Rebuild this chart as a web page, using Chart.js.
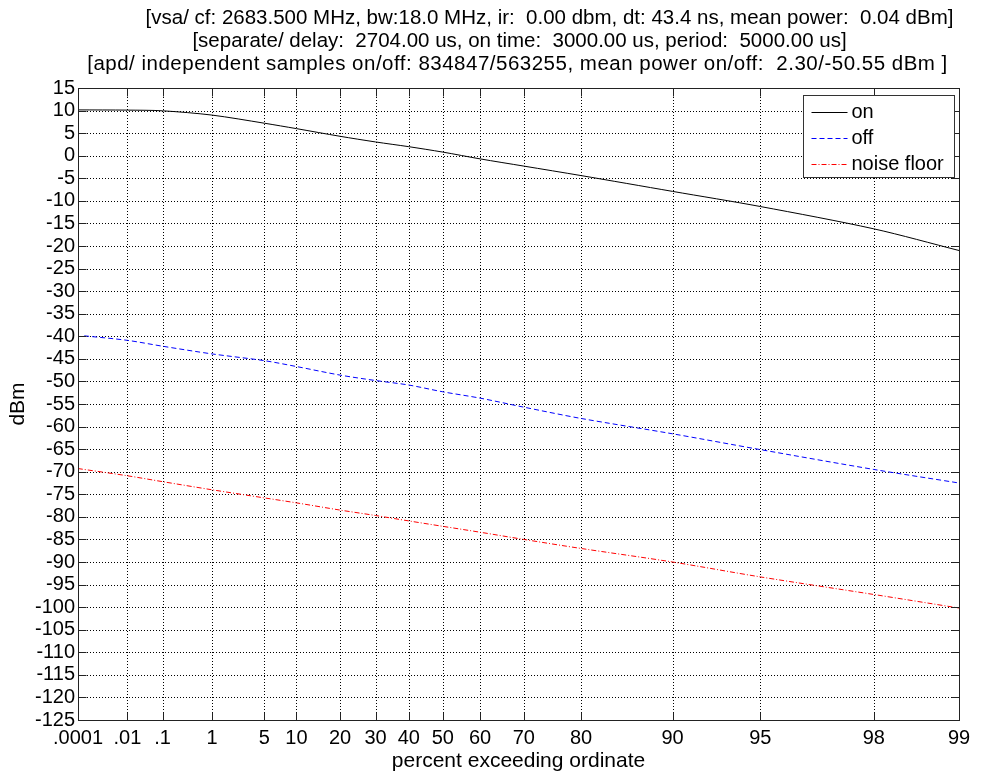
<!DOCTYPE html>
<html>
<head>
<meta charset="utf-8">
<script src="https://cdn.jsdelivr.net/npm/chart.js@4/dist/chart.umd.min.js"></script>
<style>
  html, body { margin: 0; padding: 0; background: #fff; }
  #wrap { width: 984px; height: 776px; position: relative; }
</style>
</head>
<body>
<div id="wrap"><canvas id="apd"></canvas></div>
<script>
// Title lines
const titleLines = [
  '[vsa/ cf: 2683.500 MHz, bw:18.0 MHz, ir:  0.00 dbm, dt: 43.4 ns, mean power:  0.04 dBm]',
  '[separate/ delay:  2704.00 us, on time:  3000.00 us, period:  5000.00 us]',
  '[apd/ independent samples on/off: 834847/563255, mean power on/off:  2.30/-50.55 dBm ]'
];
// horizontal shift of each title line from the axes centre (px) and extra letter spacing
const titleShift = [31, 1, -1];
const titleSpacing = ['0px', '0px', '0.5px'];

// Probability-axis ticks (percent exceeding ordinate)
const percentTicks = [0.0001, 0.01, 0.1, 1, 5, 10, 20, 30, 40, 50, 60, 70, 80, 90, 95, 98, 99];
const percentTickLabels = ['.0001', '.01', '.1', '1', '5', '10', '20', '30', '40', '50', '60', '70', '80', '90', '95', '98', '99'];

// Series: percent exceeding and level in dBm
const percentOn = [0.0001, 0.01, 0.1, 1, 5, 10, 20, 30, 40, 50, 60, 70, 80, 90, 95, 98, 99];
const powerOn = [10.15, 10.1, 9.95, 9.0, 7.2, 6.0, 4.3, 3.05, 2.0, 0.8, -0.7, -2.3, -4.4, -7.9, -11.25, -16.2, -21.0];

const percentOff = [0.0002, 0.01, 0.1, 1, 5, 10, 20, 30, 40, 50, 60, 70, 80, 90, 95, 98, 99];
const powerOff = [-39.9, -40.9, -42.2, -43.9, -45.4, -46.7, -48.6, -49.8, -50.8, -52.3, -53.7, -55.7, -58.2, -61.6, -65.1, -69.5, -72.5];

const percentNoise = [0.0001, 0.01, 0.1, 1, 5, 10, 20, 30, 40, 50, 60, 70, 80, 90, 95, 98, 99];
const powerNoise = [-69.3, -70.9, -72.2, -74.0, -75.8, -76.9, -78.5, -79.7, -80.9, -82.1, -83.4, -85.0, -87.0, -90.0, -93.3, -97.2, -100.2];

const FONT = '"Liberation Sans", Arial, Helvetica, sans-serif';
const TICK_SIZE = 20;
const LABEL_SIZE = 21;
const TITLE_SIZE = 20.5;

// Rayleigh probability scale: position = -log10(-ln(p/100))
const apdTransform = p => -Math.log10(-Math.log(p / 100));

class ApdScale extends Chart.LinearScale {
  buildTicks() {
    return percentTicks
      .filter(v => v >= this.min && v <= this.max)
      .map(v => ({ value: v }));
  }
  configure() {
    super.configure();
    this._t0 = apdTransform(this.min);
    this._t1 = apdTransform(this.max);
  }
  getPixelForValue(value) {
    return this.getPixelForDecimal((apdTransform(value) - this._t0) / (this._t1 - this._t0));
  }
  getValueForPixel(pixel) {
    const t = this._t0 + this.getDecimalForPixel(pixel) * (this._t1 - this._t0);
    return 100 * Math.exp(-Math.pow(10, -t));
  }
}
ApdScale.id = 'apd';
ApdScale.defaults = {};
Chart.register(ApdScale);

const toPoints = (xs, ys) => xs.map((x, i) => ({ x, y: ys[i] }));

// Dotted grid behind the curves
const gridPlugin = {
  id: 'dottedGrid',
  beforeDatasetsDraw(chart) {
    const { ctx, chartArea: a, scales: { x, y } } = chart;
    ctx.save();
    ctx.strokeStyle = '#000';
    ctx.lineWidth = 1;
    ctx.setLineDash([1, 2]);
    x.ticks.forEach(t => {
      const px = Math.round(x.getPixelForValue(t.value)) + 0.5;
      if (px <= a.left + 1 || px >= a.right - 1) return;
      ctx.beginPath(); ctx.moveTo(px, a.top); ctx.lineTo(px, a.bottom); ctx.stroke();
    });
    y.ticks.forEach(t => {
      const py = Math.round(y.getPixelForValue(t.value)) + 0.5;
      if (py <= a.top + 1 || py >= a.bottom - 1) return;
      ctx.beginPath(); ctx.moveTo(a.left, py); ctx.lineTo(a.right, py); ctx.stroke();
    });
    ctx.restore();
  }
};

// Axes box with inward tick marks on all four sides, legend and title
const framePlugin = {
  id: 'frame',
  afterDatasetsDraw(chart) {
    const { ctx, chartArea: a, scales: { x, y } } = chart;
    const L = Math.round(a.left) + 0.5, R = Math.round(a.right) + 0.5;
    const T = Math.round(a.top) + 0.5, B = Math.round(a.bottom) + 0.5;
    const tick = 8;
    ctx.save();
    ctx.strokeStyle = '#222';
    ctx.lineWidth = 1;
    ctx.setLineDash([]);
    ctx.strokeRect(L, T, R - L, B - T);
    ctx.beginPath();
    x.ticks.forEach(t => {
      const px = Math.round(x.getPixelForValue(t.value)) + 0.5;
      ctx.moveTo(px, B); ctx.lineTo(px, B - tick);
      ctx.moveTo(px, T); ctx.lineTo(px, T + tick);
    });
    y.ticks.forEach(t => {
      const py = Math.round(y.getPixelForValue(t.value)) + 0.5;
      ctx.moveTo(L, py); ctx.lineTo(L + tick, py);
      ctx.moveTo(R, py); ctx.lineTo(R - tick, py);
    });
    ctx.stroke();

    // legend
    const sets = chart.data.datasets;
    ctx.font = TICK_SIZE + 'px ' + FONT;
    const textW = Math.max(...sets.map(d => ctx.measureText(d.label).width));
    const rowH = 26, sample = 36;
    const w = Math.round(8 + sample + 4 + textW + 11);
    const h = sets.length * rowH + 4;
    const x0 = Math.round(a.right - 5 - w) + 0.5, y0 = Math.round(a.top + 7) + 0.5;
    ctx.fillStyle = '#fff';
    ctx.fillRect(x0, y0, w, h);
    ctx.strokeStyle = '#333';
    ctx.strokeRect(x0, y0, w, h);
    sets.forEach((d, i) => {
      const yc = Math.round(y0 + 16 + i * rowH) + 0.5;
      ctx.strokeStyle = d.borderColor;
      ctx.lineWidth = d.borderWidth;
      ctx.setLineDash(d.borderDash || []);
      ctx.beginPath(); ctx.moveTo(x0 + 8, yc); ctx.lineTo(x0 + 8 + sample, yc); ctx.stroke();
      ctx.fillStyle = '#000';
      ctx.textAlign = 'left';
      ctx.textBaseline = 'middle';
      ctx.fillText(d.label, x0 + 8 + sample + 4, yc);
    });

    // title
    ctx.font = TITLE_SIZE + 'px ' + FONT;
    ctx.fillStyle = '#000';
    ctx.textAlign = 'center';
    ctx.textBaseline = 'middle';
    const cx = (a.left + a.right) / 2;
    titleLines.forEach((s, i) => {
      ctx.letterSpacing = titleSpacing[i];
      ctx.fillText(s, cx + titleShift[i], 18 + i * 23);
    });
    ctx.letterSpacing = '0px';
    ctx.restore();
  }
};

new Chart(document.getElementById('apd'), {
  type: 'line',
  data: {
    datasets: [
      { label: 'on', data: toPoints(percentOn, powerOn), borderColor: '#000000', borderWidth: 1, pointRadius: 0, tension: 0.3, borderDash: [] },
      { label: 'off', data: toPoints(percentOff, powerOff), borderColor: '#0000ff', borderWidth: 1, pointRadius: 0, tension: 0.3, borderDash: [5, 3] },
      { label: 'noise floor', data: toPoints(percentNoise, powerNoise), borderColor: '#ff0000', borderWidth: 1, pointRadius: 0, tension: 0.3, borderDash: [5, 2, 1, 2] }
    ]
  },
  options: {
    responsive: true,
    maintainAspectRatio: false,
    animation: false,
    events: [],
    layout: { padding: { top: 88, right: 25, left: 0, bottom: 0 } },
    plugins: { legend: { display: false }, tooltip: { enabled: false }, title: { display: false } },
    scales: {
      x: {
        type: 'apd',
        min: 0.0001,
        max: 99,
        grid: { display: false, drawTicks: false },
        border: { display: false },
        afterFit: s => { s.height = 56; },
        ticks: {
          autoSkip: false,
          maxRotation: 0,
          padding: 6,
          color: '#000',
          font: { family: FONT, size: TICK_SIZE },
          callback: (v, i) => percentTickLabels[i]
        },
        title: { display: true, text: 'percent exceeding ordinate', color: '#000', font: { family: FONT, size: LABEL_SIZE }, padding: { top: 0, bottom: 2 } }
      },
      y: {
        type: 'linear',
        min: -125,
        max: 15,
        grid: { display: false, drawTicks: false },
        border: { display: false },
        afterFit: s => { s.width = 78; },
        ticks: {
          stepSize: 5,
          autoSkip: false,
          padding: 3,
          color: '#000',
          font: { family: FONT, size: TICK_SIZE }
        },
        title: { display: true, text: 'dBm', color: '#000', font: { family: FONT, size: LABEL_SIZE }, padding: { top: 6, bottom: 0 } }
      }
    }
  },
  plugins: [gridPlugin, framePlugin]
});
</script>
</body>
</html>
